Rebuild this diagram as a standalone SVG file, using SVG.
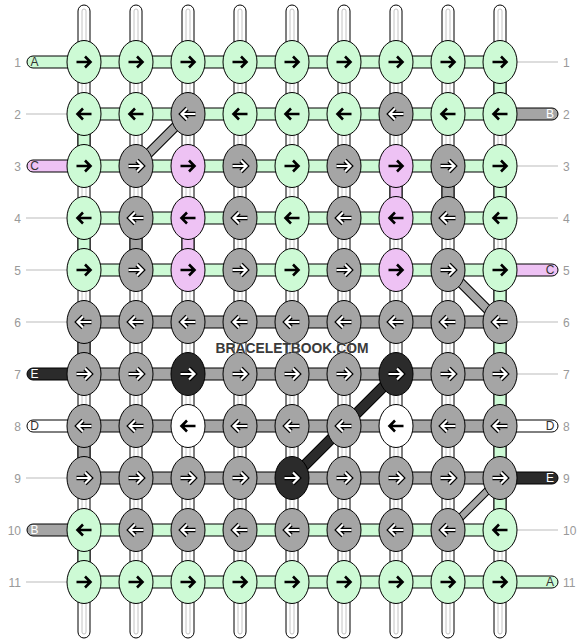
<svg xmlns="http://www.w3.org/2000/svg" xmlns:xlink="http://www.w3.org/1999/xlink" width="584" height="644" viewBox="0 0 584 644">
<style>
.e{stroke:#000;stroke-width:1}
.c{stroke:#000;stroke-width:1}
.g{fill:#cdfad5}.p{fill:#eec2f4}.r{fill:#a5a5a5}.d{fill:#2b2b2b}.w{fill:#fff}
.ab{stroke:#000;stroke-width:2.6;fill:none}
.ao{stroke:#000;stroke-width:4.6;fill:none}
.ai{stroke:#fff;stroke-width:2.2;fill:none}
.warp{fill:#fff;stroke:#000;stroke-width:1}
.wl{fill:none;stroke:#c4c4c4;stroke-width:1}
.tl{stroke:#bbb;stroke-width:1}
.num{font-family:"Liberation Sans",Arial,sans-serif;font-size:12px;fill:#999}
.lt{font-family:"Liberation Sans",Arial,sans-serif;font-size:12px;text-anchor:middle}
.lk{fill:#333}.lw{fill:#fff}
.wm{font-family:"Liberation Sans",Arial,sans-serif;font-weight:bold;font-size:15px;fill:#3a3a3a;stroke:#fff;stroke-width:1.2;stroke-opacity:.5;paint-order:stroke}
</style>
<defs>
<path id="R" d="M-7.5,0H6.5M1,-5.5L6.5,0L1,5.5"/>
<path id="L" d="M7.5,0H-6.5M-1,-5.5L-6.5,0L-1,5.5"/>
</defs>
<g id="labels">
<text class="num" x="21" y="66.5" text-anchor="end">1</text>
<text class="num" x="21" y="118.5" text-anchor="end">2</text>
<text class="num" x="21" y="170.5" text-anchor="end">3</text>
<text class="num" x="21" y="222.5" text-anchor="end">4</text>
<text class="num" x="21" y="274.5" text-anchor="end">5</text>
<text class="num" x="21" y="326.5" text-anchor="end">6</text>
<text class="num" x="21" y="378.5" text-anchor="end">7</text>
<text class="num" x="21" y="430.5" text-anchor="end">8</text>
<text class="num" x="21" y="482.5" text-anchor="end">9</text>
<text class="num" x="21" y="534.5" text-anchor="end">10</text>
<text class="num" x="21" y="586.5" text-anchor="end">11</text>
<text class="num" x="563" y="66.5">1</text>
<text class="num" x="563" y="118.5">2</text>
<text class="num" x="563" y="170.5">3</text>
<text class="num" x="563" y="222.5">4</text>
<text class="num" x="563" y="274.5">5</text>
<text class="num" x="563" y="326.5">6</text>
<text class="num" x="563" y="378.5">7</text>
<text class="num" x="563" y="430.5">8</text>
<text class="num" x="563" y="482.5">9</text>
<text class="num" x="563" y="534.5">10</text>
<text class="num" x="563" y="586.5">11</text>
<line class="tl" x1="26" y1="114" x2="68" y2="114"/>
<line class="tl" x1="26" y1="218" x2="68" y2="218"/>
<line class="tl" x1="26" y1="270" x2="68" y2="270"/>
<line class="tl" x1="26" y1="322" x2="68" y2="322"/>
<line class="tl" x1="26" y1="478" x2="68" y2="478"/>
<line class="tl" x1="26" y1="582" x2="68" y2="582"/>
<line class="tl" x1="516" y1="62" x2="558" y2="62"/>
<line class="tl" x1="516" y1="166" x2="558" y2="166"/>
<line class="tl" x1="516" y1="218" x2="558" y2="218"/>
<line class="tl" x1="516" y1="322" x2="558" y2="322"/>
<line class="tl" x1="516" y1="374" x2="558" y2="374"/>
<line class="tl" x1="516" y1="530" x2="558" y2="530"/>
</g>
<g id="connectors">
<g id="warps">
<rect class="warp" x="78" y="5" width="12" height="633" rx="6"/><rect class="wl" x="82" y="9" width="4" height="625" rx="2"/>
<rect class="warp" x="130" y="5" width="12" height="633" rx="6"/><rect class="wl" x="134" y="9" width="4" height="625" rx="2"/>
<rect class="warp" x="182" y="5" width="12" height="633" rx="6"/><rect class="wl" x="186" y="9" width="4" height="625" rx="2"/>
<rect class="warp" x="234" y="5" width="12" height="633" rx="6"/><rect class="wl" x="238" y="9" width="4" height="625" rx="2"/>
<rect class="warp" x="286" y="5" width="12" height="633" rx="6"/><rect class="wl" x="290" y="9" width="4" height="625" rx="2"/>
<rect class="warp" x="338" y="5" width="12" height="633" rx="6"/><rect class="wl" x="342" y="9" width="4" height="625" rx="2"/>
<rect class="warp" x="390" y="5" width="12" height="633" rx="6"/><rect class="wl" x="394" y="9" width="4" height="625" rx="2"/>
<rect class="warp" x="442" y="5" width="12" height="633" rx="6"/><rect class="wl" x="446" y="9" width="4" height="625" rx="2"/>
<rect class="warp" x="494" y="5" width="12" height="633" rx="6"/><rect class="wl" x="498" y="9" width="4" height="625" rx="2"/>
</g>
<g id="verticals">
<rect class="c g" x="494" y="62" width="12" height="52"/>
<rect class="c g" x="78" y="114" width="12" height="52"/>
<rect class="c p" x="390" y="166" width="12" height="52"/>
<rect class="c r" x="442" y="166" width="12" height="52"/>
<rect class="c g" x="494" y="166" width="12" height="52"/>
<rect class="c g" x="78" y="218" width="12" height="52"/>
<rect class="c r" x="130" y="218" width="12" height="52"/>
<rect class="c p" x="182" y="218" width="12" height="52"/>
<rect class="c g" x="494" y="270" width="12" height="52"/>
<rect class="c r" x="78" y="322" width="12" height="52"/>
<rect class="c g" x="494" y="322" width="12" height="52"/>
<rect class="c g" x="494" y="374" width="12" height="52"/>
<rect class="c r" x="78" y="426" width="12" height="52"/>
<rect class="c g" x="494" y="426" width="12" height="52"/>
<rect class="c g" x="494" y="478" width="12" height="52"/>
<rect class="c g" x="78" y="530" width="12" height="52"/>
</g>
<g id="rows">
<rect class="c g" x="84" y="56" width="416" height="12"/>
<rect class="c g" x="84" y="108" width="416" height="12"/>
<rect class="c g" x="84" y="160" width="416" height="12"/>
<rect class="c g" x="84" y="212" width="416" height="12"/>
<rect class="c g" x="84" y="264" width="416" height="12"/>
<rect class="c r" x="84" y="316" width="416" height="12"/>
<rect class="c r" x="84" y="368" width="416" height="12"/>
<rect class="c r" x="84" y="420" width="416" height="12"/>
<rect class="c r" x="84" y="472" width="416" height="12"/>
<rect class="c g" x="84" y="524" width="416" height="12"/>
<rect class="c g" x="84" y="576" width="416" height="12"/>
</g>
<g id="ends">
<rect class="c g" x="27" y="56" width="57" height="12" rx="6"/><text class="lt lk" x="34.5" y="66.3">A</text>
<rect class="c p" x="27" y="160" width="57" height="12" rx="6"/><text class="lt lk" x="34.5" y="170.3">C</text>
<rect class="c d" x="27" y="368" width="57" height="12" rx="6"/><text class="lt lw" x="34.5" y="378.3">E</text>
<rect class="c w" x="27" y="420" width="57" height="12" rx="6"/><text class="lt lk" x="34.5" y="430.3">D</text>
<rect class="c r" x="27" y="524" width="57" height="12" rx="6"/><text class="lt lw" x="34.5" y="534.3">B</text>
<rect class="c r" x="500" y="108" width="58" height="12" rx="6"/><text class="lt lw" x="550" y="118.3">B</text>
<rect class="c p" x="500" y="264" width="58" height="12" rx="6"/><text class="lt lk" x="550" y="274.3">C</text>
<rect class="c w" x="500" y="420" width="58" height="12" rx="6"/><text class="lt lk" x="550" y="430.3">D</text>
<rect class="c d" x="500" y="472" width="58" height="12" rx="6"/><text class="lt lw" x="550" y="482.3">E</text>
<rect class="c g" x="500" y="576" width="58" height="12" rx="6"/><text class="lt lk" x="550" y="586.3">A</text>
</g>
<g id="diagonals">
<line x1="188" y1="114" x2="136" y2="166" stroke="#000" stroke-width="10"/>
<line x1="188" y1="114" x2="136" y2="166" stroke="#a5a5a5" stroke-width="8"/>
<line x1="448" y1="270" x2="500" y2="322" stroke="#000" stroke-width="10"/>
<line x1="448" y1="270" x2="500" y2="322" stroke="#a5a5a5" stroke-width="8"/>
<line x1="396" y1="374" x2="292" y2="478" stroke="#000" stroke-width="11"/>
<line x1="396" y1="374" x2="292" y2="478" stroke="#2b2b2b" stroke-width="9"/>
<line x1="500" y1="478" x2="448" y2="530" stroke="#000" stroke-width="8"/>
<line x1="500" y1="478" x2="448" y2="530" stroke="#a5a5a5" stroke-width="6"/>
</g>
</g>
<g id="nodes">
<g id="r1c1"><ellipse class="e g" cx="84" cy="62" rx="17" ry="21.5"/><use href="#R" x="84" y="62" class="ab"/></g>
<g id="r1c2"><ellipse class="e g" cx="136" cy="62" rx="17" ry="21.5"/><use href="#R" x="136" y="62" class="ab"/></g>
<g id="r1c3"><ellipse class="e g" cx="188" cy="62" rx="17" ry="21.5"/><use href="#R" x="188" y="62" class="ab"/></g>
<g id="r1c4"><ellipse class="e g" cx="240" cy="62" rx="17" ry="21.5"/><use href="#R" x="240" y="62" class="ab"/></g>
<g id="r1c5"><ellipse class="e g" cx="292" cy="62" rx="17" ry="21.5"/><use href="#R" x="292" y="62" class="ab"/></g>
<g id="r1c6"><ellipse class="e g" cx="344" cy="62" rx="17" ry="21.5"/><use href="#R" x="344" y="62" class="ab"/></g>
<g id="r1c7"><ellipse class="e g" cx="396" cy="62" rx="17" ry="21.5"/><use href="#R" x="396" y="62" class="ab"/></g>
<g id="r1c8"><ellipse class="e g" cx="448" cy="62" rx="17" ry="21.5"/><use href="#R" x="448" y="62" class="ab"/></g>
<g id="r1c9"><ellipse class="e g" cx="500" cy="62" rx="17" ry="21.5"/><use href="#R" x="500" y="62" class="ab"/></g>

<g id="r2c1"><ellipse class="e g" cx="84" cy="114" rx="17" ry="21.5"/><use href="#L" x="84" y="114" class="ab"/></g>
<g id="r2c2"><ellipse class="e g" cx="136" cy="114" rx="17" ry="21.5"/><use href="#L" x="136" y="114" class="ab"/></g>
<g id="r2c3"><ellipse class="e r" cx="188" cy="114" rx="17" ry="21.5"/><use href="#L" x="188" y="114" class="ao"/><use href="#L" x="188" y="114" class="ai"/></g>
<g id="r2c4"><ellipse class="e g" cx="240" cy="114" rx="17" ry="21.5"/><use href="#L" x="240" y="114" class="ab"/></g>
<g id="r2c5"><ellipse class="e g" cx="292" cy="114" rx="17" ry="21.5"/><use href="#L" x="292" y="114" class="ab"/></g>
<g id="r2c6"><ellipse class="e g" cx="344" cy="114" rx="17" ry="21.5"/><use href="#L" x="344" y="114" class="ab"/></g>
<g id="r2c7"><ellipse class="e r" cx="396" cy="114" rx="17" ry="21.5"/><use href="#L" x="396" y="114" class="ao"/><use href="#L" x="396" y="114" class="ai"/></g>
<g id="r2c8"><ellipse class="e g" cx="448" cy="114" rx="17" ry="21.5"/><use href="#L" x="448" y="114" class="ab"/></g>
<g id="r2c9"><ellipse class="e g" cx="500" cy="114" rx="17" ry="21.5"/><use href="#L" x="500" y="114" class="ab"/></g>

<g id="r3c1"><ellipse class="e g" cx="84" cy="166" rx="17" ry="21.5"/><use href="#R" x="84" y="166" class="ab"/></g>
<g id="r3c2"><ellipse class="e r" cx="136" cy="166" rx="17" ry="21.5"/><use href="#R" x="136" y="166" class="ao"/><use href="#R" x="136" y="166" class="ai"/></g>
<g id="r3c3"><ellipse class="e p" cx="188" cy="166" rx="17" ry="21.5"/><use href="#R" x="188" y="166" class="ab"/></g>
<g id="r3c4"><ellipse class="e r" cx="240" cy="166" rx="17" ry="21.5"/><use href="#R" x="240" y="166" class="ao"/><use href="#R" x="240" y="166" class="ai"/></g>
<g id="r3c5"><ellipse class="e g" cx="292" cy="166" rx="17" ry="21.5"/><use href="#R" x="292" y="166" class="ab"/></g>
<g id="r3c6"><ellipse class="e r" cx="344" cy="166" rx="17" ry="21.5"/><use href="#R" x="344" y="166" class="ao"/><use href="#R" x="344" y="166" class="ai"/></g>
<g id="r3c7"><ellipse class="e p" cx="396" cy="166" rx="17" ry="21.5"/><use href="#R" x="396" y="166" class="ab"/></g>
<g id="r3c8"><ellipse class="e r" cx="448" cy="166" rx="17" ry="21.5"/><use href="#R" x="448" y="166" class="ao"/><use href="#R" x="448" y="166" class="ai"/></g>
<g id="r3c9"><ellipse class="e g" cx="500" cy="166" rx="17" ry="21.5"/><use href="#R" x="500" y="166" class="ab"/></g>

<g id="r4c1"><ellipse class="e g" cx="84" cy="218" rx="17" ry="21.5"/><use href="#L" x="84" y="218" class="ab"/></g>
<g id="r4c2"><ellipse class="e r" cx="136" cy="218" rx="17" ry="21.5"/><use href="#L" x="136" y="218" class="ao"/><use href="#L" x="136" y="218" class="ai"/></g>
<g id="r4c3"><ellipse class="e p" cx="188" cy="218" rx="17" ry="21.5"/><use href="#L" x="188" y="218" class="ab"/></g>
<g id="r4c4"><ellipse class="e r" cx="240" cy="218" rx="17" ry="21.5"/><use href="#L" x="240" y="218" class="ao"/><use href="#L" x="240" y="218" class="ai"/></g>
<g id="r4c5"><ellipse class="e g" cx="292" cy="218" rx="17" ry="21.5"/><use href="#L" x="292" y="218" class="ab"/></g>
<g id="r4c6"><ellipse class="e r" cx="344" cy="218" rx="17" ry="21.5"/><use href="#L" x="344" y="218" class="ao"/><use href="#L" x="344" y="218" class="ai"/></g>
<g id="r4c7"><ellipse class="e p" cx="396" cy="218" rx="17" ry="21.5"/><use href="#L" x="396" y="218" class="ab"/></g>
<g id="r4c8"><ellipse class="e r" cx="448" cy="218" rx="17" ry="21.5"/><use href="#L" x="448" y="218" class="ao"/><use href="#L" x="448" y="218" class="ai"/></g>
<g id="r4c9"><ellipse class="e g" cx="500" cy="218" rx="17" ry="21.5"/><use href="#L" x="500" y="218" class="ab"/></g>

<g id="r5c1"><ellipse class="e g" cx="84" cy="270" rx="17" ry="21.5"/><use href="#R" x="84" y="270" class="ab"/></g>
<g id="r5c2"><ellipse class="e r" cx="136" cy="270" rx="17" ry="21.5"/><use href="#R" x="136" y="270" class="ao"/><use href="#R" x="136" y="270" class="ai"/></g>
<g id="r5c3"><ellipse class="e p" cx="188" cy="270" rx="17" ry="21.5"/><use href="#R" x="188" y="270" class="ab"/></g>
<g id="r5c4"><ellipse class="e r" cx="240" cy="270" rx="17" ry="21.5"/><use href="#R" x="240" y="270" class="ao"/><use href="#R" x="240" y="270" class="ai"/></g>
<g id="r5c5"><ellipse class="e g" cx="292" cy="270" rx="17" ry="21.5"/><use href="#R" x="292" y="270" class="ab"/></g>
<g id="r5c6"><ellipse class="e r" cx="344" cy="270" rx="17" ry="21.5"/><use href="#R" x="344" y="270" class="ao"/><use href="#R" x="344" y="270" class="ai"/></g>
<g id="r5c7"><ellipse class="e p" cx="396" cy="270" rx="17" ry="21.5"/><use href="#R" x="396" y="270" class="ab"/></g>
<g id="r5c8"><ellipse class="e r" cx="448" cy="270" rx="17" ry="21.5"/><use href="#R" x="448" y="270" class="ao"/><use href="#R" x="448" y="270" class="ai"/></g>
<g id="r5c9"><ellipse class="e g" cx="500" cy="270" rx="17" ry="21.5"/><use href="#R" x="500" y="270" class="ab"/></g>

<g id="r6c1"><ellipse class="e r" cx="84" cy="322" rx="17" ry="21.5"/><use href="#L" x="84" y="322" class="ao"/><use href="#L" x="84" y="322" class="ai"/></g>
<g id="r6c2"><ellipse class="e r" cx="136" cy="322" rx="17" ry="21.5"/><use href="#L" x="136" y="322" class="ao"/><use href="#L" x="136" y="322" class="ai"/></g>
<g id="r6c3"><ellipse class="e r" cx="188" cy="322" rx="17" ry="21.5"/><use href="#L" x="188" y="322" class="ao"/><use href="#L" x="188" y="322" class="ai"/></g>
<g id="r6c4"><ellipse class="e r" cx="240" cy="322" rx="17" ry="21.5"/><use href="#L" x="240" y="322" class="ao"/><use href="#L" x="240" y="322" class="ai"/></g>
<g id="r6c5"><ellipse class="e r" cx="292" cy="322" rx="17" ry="21.5"/><use href="#L" x="292" y="322" class="ao"/><use href="#L" x="292" y="322" class="ai"/></g>
<g id="r6c6"><ellipse class="e r" cx="344" cy="322" rx="17" ry="21.5"/><use href="#L" x="344" y="322" class="ao"/><use href="#L" x="344" y="322" class="ai"/></g>
<g id="r6c7"><ellipse class="e r" cx="396" cy="322" rx="17" ry="21.5"/><use href="#L" x="396" y="322" class="ao"/><use href="#L" x="396" y="322" class="ai"/></g>
<g id="r6c8"><ellipse class="e r" cx="448" cy="322" rx="17" ry="21.5"/><use href="#L" x="448" y="322" class="ao"/><use href="#L" x="448" y="322" class="ai"/></g>
<g id="r6c9"><ellipse class="e r" cx="500" cy="322" rx="17" ry="21.5"/><use href="#L" x="500" y="322" class="ao"/><use href="#L" x="500" y="322" class="ai"/></g>

<g id="r7c1"><ellipse class="e r" cx="84" cy="374" rx="17" ry="21.5"/><use href="#R" x="84" y="374" class="ao"/><use href="#R" x="84" y="374" class="ai"/></g>
<g id="r7c2"><ellipse class="e r" cx="136" cy="374" rx="17" ry="21.5"/><use href="#R" x="136" y="374" class="ao"/><use href="#R" x="136" y="374" class="ai"/></g>
<g id="r7c3"><ellipse class="e d" cx="188" cy="374" rx="17" ry="21.5"/><use href="#R" x="188" y="374" class="ao"/><use href="#R" x="188" y="374" class="ai"/></g>
<g id="r7c4"><ellipse class="e r" cx="240" cy="374" rx="17" ry="21.5"/><use href="#R" x="240" y="374" class="ao"/><use href="#R" x="240" y="374" class="ai"/></g>
<g id="r7c5"><ellipse class="e r" cx="292" cy="374" rx="17" ry="21.5"/><use href="#R" x="292" y="374" class="ao"/><use href="#R" x="292" y="374" class="ai"/></g>
<g id="r7c6"><ellipse class="e r" cx="344" cy="374" rx="17" ry="21.5"/><use href="#R" x="344" y="374" class="ao"/><use href="#R" x="344" y="374" class="ai"/></g>
<g id="r7c7"><ellipse class="e d" cx="396" cy="374" rx="17" ry="21.5"/><use href="#R" x="396" y="374" class="ao"/><use href="#R" x="396" y="374" class="ai"/></g>
<g id="r7c8"><ellipse class="e r" cx="448" cy="374" rx="17" ry="21.5"/><use href="#R" x="448" y="374" class="ao"/><use href="#R" x="448" y="374" class="ai"/></g>
<g id="r7c9"><ellipse class="e r" cx="500" cy="374" rx="17" ry="21.5"/><use href="#R" x="500" y="374" class="ao"/><use href="#R" x="500" y="374" class="ai"/></g>

<g id="r8c1"><ellipse class="e r" cx="84" cy="426" rx="17" ry="21.5"/><use href="#L" x="84" y="426" class="ao"/><use href="#L" x="84" y="426" class="ai"/></g>
<g id="r8c2"><ellipse class="e r" cx="136" cy="426" rx="17" ry="21.5"/><use href="#L" x="136" y="426" class="ao"/><use href="#L" x="136" y="426" class="ai"/></g>
<g id="r8c3"><ellipse class="e w" cx="188" cy="426" rx="17" ry="21.5"/><use href="#L" x="188" y="426" class="ab"/></g>
<g id="r8c4"><ellipse class="e r" cx="240" cy="426" rx="17" ry="21.5"/><use href="#L" x="240" y="426" class="ao"/><use href="#L" x="240" y="426" class="ai"/></g>
<g id="r8c5"><ellipse class="e r" cx="292" cy="426" rx="17" ry="21.5"/><use href="#L" x="292" y="426" class="ao"/><use href="#L" x="292" y="426" class="ai"/></g>
<g id="r8c6"><ellipse class="e r" cx="344" cy="426" rx="17" ry="21.5"/><use href="#L" x="344" y="426" class="ao"/><use href="#L" x="344" y="426" class="ai"/></g>
<g id="r8c7"><ellipse class="e w" cx="396" cy="426" rx="17" ry="21.5"/><use href="#L" x="396" y="426" class="ab"/></g>
<g id="r8c8"><ellipse class="e r" cx="448" cy="426" rx="17" ry="21.5"/><use href="#L" x="448" y="426" class="ao"/><use href="#L" x="448" y="426" class="ai"/></g>
<g id="r8c9"><ellipse class="e r" cx="500" cy="426" rx="17" ry="21.5"/><use href="#L" x="500" y="426" class="ao"/><use href="#L" x="500" y="426" class="ai"/></g>

<g id="r9c1"><ellipse class="e r" cx="84" cy="478" rx="17" ry="21.5"/><use href="#R" x="84" y="478" class="ao"/><use href="#R" x="84" y="478" class="ai"/></g>
<g id="r9c2"><ellipse class="e r" cx="136" cy="478" rx="17" ry="21.5"/><use href="#R" x="136" y="478" class="ao"/><use href="#R" x="136" y="478" class="ai"/></g>
<g id="r9c3"><ellipse class="e r" cx="188" cy="478" rx="17" ry="21.5"/><use href="#R" x="188" y="478" class="ao"/><use href="#R" x="188" y="478" class="ai"/></g>
<g id="r9c4"><ellipse class="e r" cx="240" cy="478" rx="17" ry="21.5"/><use href="#R" x="240" y="478" class="ao"/><use href="#R" x="240" y="478" class="ai"/></g>
<g id="r9c5"><ellipse class="e d" cx="292" cy="478" rx="17" ry="21.5"/><use href="#R" x="292" y="478" class="ao"/><use href="#R" x="292" y="478" class="ai"/></g>
<g id="r9c6"><ellipse class="e r" cx="344" cy="478" rx="17" ry="21.5"/><use href="#R" x="344" y="478" class="ao"/><use href="#R" x="344" y="478" class="ai"/></g>
<g id="r9c7"><ellipse class="e r" cx="396" cy="478" rx="17" ry="21.5"/><use href="#R" x="396" y="478" class="ao"/><use href="#R" x="396" y="478" class="ai"/></g>
<g id="r9c8"><ellipse class="e r" cx="448" cy="478" rx="17" ry="21.5"/><use href="#R" x="448" y="478" class="ao"/><use href="#R" x="448" y="478" class="ai"/></g>
<g id="r9c9"><ellipse class="e r" cx="500" cy="478" rx="17" ry="21.5"/><use href="#R" x="500" y="478" class="ao"/><use href="#R" x="500" y="478" class="ai"/></g>

<g id="r10c1"><ellipse class="e g" cx="84" cy="530" rx="17" ry="21.5"/><use href="#L" x="84" y="530" class="ab"/></g>
<g id="r10c2"><ellipse class="e r" cx="136" cy="530" rx="17" ry="21.5"/><use href="#L" x="136" y="530" class="ao"/><use href="#L" x="136" y="530" class="ai"/></g>
<g id="r10c3"><ellipse class="e r" cx="188" cy="530" rx="17" ry="21.5"/><use href="#L" x="188" y="530" class="ao"/><use href="#L" x="188" y="530" class="ai"/></g>
<g id="r10c4"><ellipse class="e r" cx="240" cy="530" rx="17" ry="21.5"/><use href="#L" x="240" y="530" class="ao"/><use href="#L" x="240" y="530" class="ai"/></g>
<g id="r10c5"><ellipse class="e r" cx="292" cy="530" rx="17" ry="21.5"/><use href="#L" x="292" y="530" class="ao"/><use href="#L" x="292" y="530" class="ai"/></g>
<g id="r10c6"><ellipse class="e r" cx="344" cy="530" rx="17" ry="21.5"/><use href="#L" x="344" y="530" class="ao"/><use href="#L" x="344" y="530" class="ai"/></g>
<g id="r10c7"><ellipse class="e r" cx="396" cy="530" rx="17" ry="21.5"/><use href="#L" x="396" y="530" class="ao"/><use href="#L" x="396" y="530" class="ai"/></g>
<g id="r10c8"><ellipse class="e r" cx="448" cy="530" rx="17" ry="21.5"/><use href="#L" x="448" y="530" class="ao"/><use href="#L" x="448" y="530" class="ai"/></g>
<g id="r10c9"><ellipse class="e g" cx="500" cy="530" rx="17" ry="21.5"/><use href="#L" x="500" y="530" class="ab"/></g>

<g id="r11c1"><ellipse class="e g" cx="84" cy="582" rx="17" ry="21.5"/><use href="#R" x="84" y="582" class="ab"/></g>
<g id="r11c2"><ellipse class="e g" cx="136" cy="582" rx="17" ry="21.5"/><use href="#R" x="136" y="582" class="ab"/></g>
<g id="r11c3"><ellipse class="e g" cx="188" cy="582" rx="17" ry="21.5"/><use href="#R" x="188" y="582" class="ab"/></g>
<g id="r11c4"><ellipse class="e g" cx="240" cy="582" rx="17" ry="21.5"/><use href="#R" x="240" y="582" class="ab"/></g>
<g id="r11c5"><ellipse class="e g" cx="292" cy="582" rx="17" ry="21.5"/><use href="#R" x="292" y="582" class="ab"/></g>
<g id="r11c6"><ellipse class="e g" cx="344" cy="582" rx="17" ry="21.5"/><use href="#R" x="344" y="582" class="ab"/></g>
<g id="r11c7"><ellipse class="e g" cx="396" cy="582" rx="17" ry="21.5"/><use href="#R" x="396" y="582" class="ab"/></g>
<g id="r11c8"><ellipse class="e g" cx="448" cy="582" rx="17" ry="21.5"/><use href="#R" x="448" y="582" class="ab"/></g>
<g id="r11c9"><ellipse class="e g" cx="500" cy="582" rx="17" ry="21.5"/><use href="#R" x="500" y="582" class="ab"/></g>
</g>
<text class="wm" x="292" y="353" text-anchor="middle" textLength="153" lengthAdjust="spacingAndGlyphs">BRACELETBOOK.COM</text>
</svg>
